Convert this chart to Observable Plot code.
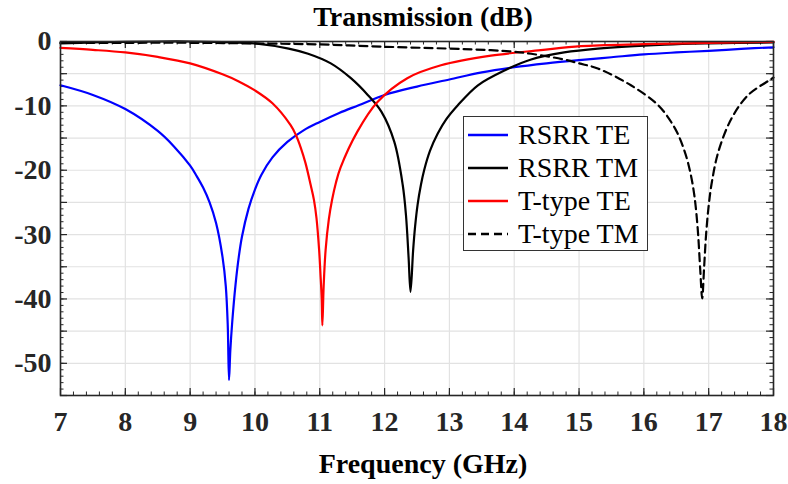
<!DOCTYPE html>
<html>
<head>
<meta charset="utf-8">
<script src="https://cdn.jsdelivr.net/npm/d3@7"></script>
<script src="https://cdn.jsdelivr.net/npm/@observablehq/plot@0.6"></script>
<style>
  html, body { margin: 0; padding: 0; background: #fff; }
  #wrap { position: relative; width: 788px; height: 484px; font-family: "Liberation Serif", "DejaVu Serif", "Noto Serif", "Tinos", "Times New Roman", serif; }
  .ttl { position: absolute; left: 0; width: 846px; text-align: center; font-size: 28px; font-weight: bold; line-height: 28px; color: #000; white-space: nowrap; }
  #legend { position: absolute; left: 463px; top: 116px; width: 185px; height: 135px; border: 1px solid #333; background: #fff; box-sizing: border-box; }
  .row { position: absolute; left: 0; height: 33px; display: flex; align-items: center; font-size: 28px; color: #000; white-space: nowrap; }
  .row svg { margin-left: 4px; margin-right: 10px; }
</style>
</head>
<body>
<div id="wrap"></div>
<script>
// ---- data ----
const rsrrTE_f  = [7.0, 7.5, 8.0, 8.5, 8.75, 9.0, 9.1, 9.2, 9.3, 9.4, 9.5, 9.55, 9.58, 9.60, 9.62, 9.65, 9.70, 9.75, 9.80, 9.90, 10.0, 10.1, 10.27, 10.5, 10.75, 11.0, 11.3, 11.6, 12.0, 12.5, 13.0, 13.5, 14.0, 14.5, 15.0, 15.5, 16.0, 16.5, 17.0, 17.5, 18.0];
const rsrrTE_db = [-6.8, -8.3, -10.5, -13.9, -16.3, -19.3, -20.9, -22.7, -25.0, -28.2, -33.5, -38.0, -44.0, -52.6, -48.0, -43.5, -37.8, -33.5, -30.3, -26.0, -23.0, -20.7, -18.0, -15.6, -13.8, -12.5, -11.1, -9.9, -8.3, -7.0, -5.9, -4.8, -4.0, -3.4, -2.9, -2.45, -2.0, -1.7, -1.45, -1.15, -0.9];

const rsrrTM_f  = [7.0, 7.5, 8.0, 8.5, 9.0, 9.5, 10.0, 10.52, 10.82, 11.17, 11.48, 11.74, 11.95, 12.15, 12.28, 12.33, 12.37, 12.40, 12.44, 12.47, 12.51, 12.56, 12.61, 12.70, 12.82, 12.95, 13.13, 13.44, 13.85, 14.26, 14.77, 15.29, 16.32, 17.0, 18.0];
const rsrrTM_db = [-0.3, -0.15, -0.05, 0.0, 0.0, -0.1, -0.3, -1.1, -1.9, -3.4, -5.7, -8.3, -10.9, -15.6, -22.3, -27.0, -33.5, -38.9, -32.5, -28.8, -25.3, -22.3, -20.0, -17.0, -14.3, -12.1, -9.9, -6.8, -4.5, -2.8, -1.7, -1.1, -0.5, -0.3, -0.15];

const ttypeTE_f  = [7.0, 7.5, 8.0, 8.5, 9.0, 9.5, 9.75, 10.0, 10.27, 10.55, 10.63, 10.71, 10.78, 10.86, 10.91, 10.95, 10.99, 11.01, 11.03, 11.04, 11.06, 11.09, 11.14, 11.19, 11.25, 11.32, 11.58, 11.89, 12.35, 12.87, 13.64, 14.41, 15.03, 16.01, 17.0, 18.0];
const ttypeTE_db = [-1.0, -1.3, -1.7, -2.4, -3.4, -5.1, -6.2, -7.6, -9.6, -13.0, -14.5, -16.6, -18.9, -22.3, -24.6, -27.5, -32.4, -36.0, -40.0, -44.1, -38.0, -32.4, -27.6, -24.6, -21.9, -19.6, -14.0, -9.4, -5.7, -3.7, -2.2, -1.35, -0.73, -0.42, -0.2, -0.06];

const ttypeTM_f  = [7.0, 8.0, 9.0, 10.0, 11.0, 11.95, 12.97, 13.64, 14.0, 14.26, 14.77, 15.0, 15.29, 15.80, 16.22, 16.48, 16.63, 16.72, 16.78, 16.83, 16.87, 16.90, 16.93, 16.96, 17.0, 17.05, 17.15, 17.35, 17.61, 17.94, 18.0];
const ttypeTM_db = [-0.2, -0.2, -0.2, -0.3, -0.45, -0.8, -1.1, -1.35, -1.6, -1.9, -2.8, -3.4, -4.2, -6.8, -9.9, -13.5, -17.1, -20.5, -24.0, -29.0, -35.5, -39.9, -35.0, -30.0, -25.5, -21.8, -17.1, -12.0, -8.3, -6.0, -5.6];

const seriesNames = ["RSRR TE", "RSRR TM", "T-type TE", "T-type TM"];
const seriesColors = ["#0000ff", "#000000", "#ff0000", "#000000"];
const seriesDash = [null, null, null, "8,5"];

const xTicks = [7, 8, 9, 10, 11, 12, 13, 14, 15, 16, 17, 18];
const yTicks = [0, -10, -20, -30, -40, -50];
const xDomain = [7, 18];
const yDomain = [-55, 0];
const titleText = "Transmission (dB)";
const xLabelText = "Frequency (GHz)";

// ---- build ----
function rows(fs, dbs, name) { return fs.map((f, i) => ({f, db: dbs[i], name})); }
const allSeries = [
  rows(rsrrTE_f, rsrrTE_db, seriesNames[0]),
  rows(rsrrTM_f, rsrrTM_db, seriesNames[1]),
  rows(ttypeTE_f, ttypeTE_db, seriesNames[2]),
  rows(ttypeTM_f, ttypeTM_db, seriesNames[3])
];

const W = 788, H = 484, mL = 60, mR = 15, mT = 41, mB = 89;
const innerW = W - mL - mR, innerH = H - mT - mB;

const xMinor = d3.range(70, 181, 2).map(v => v / 10);
const yMinor = d3.range(-55, 1, 1);
const yGrid = d3.range(-55, 1, 5);
const tickCol = "#262626";

const lineMarks = allSeries.map((s, i) => Plot.line(s, {
  x: "f", y: "db", stroke: seriesColors[i], strokeWidth: 2.2,
  strokeDasharray: seriesDash[i] || undefined, curve: "catmull-rom"
}));

const chart = Plot.plot({
  width: W, height: H,
  marginLeft: mL, marginRight: mR, marginTop: mT, marginBottom: mB,
  x: {domain: xDomain},
  y: {domain: yDomain},
  style: {fontFamily: "'Liberation Serif', 'DejaVu Serif', 'Noto Serif', Tinos, 'Times New Roman', serif", fontSize: "28px", fontWeight: "bold", color: tickCol, background: "#fff", overflow: "visible"},
  marks: [
    Plot.gridX(xTicks, {stroke: "#e2e2e2", strokeOpacity: 1, strokeWidth: 1.2}),
    Plot.gridY(yGrid, {stroke: "#e2e2e2", strokeOpacity: 1, strokeWidth: 1.2}),
    Plot.tickX(xMinor, {x: d => d, stroke: tickCol, strokeWidth: 1, insetTop: innerH - 3.5}),
    Plot.tickX(xMinor, {x: d => d, stroke: tickCol, strokeWidth: 1, insetBottom: innerH - 3.5}),
    Plot.tickX(xTicks, {x: d => d, stroke: tickCol, strokeWidth: 1.2, insetTop: innerH - 7}),
    Plot.tickX(xTicks, {x: d => d, stroke: tickCol, strokeWidth: 1.2, insetBottom: innerH - 7}),
    Plot.tickY(yMinor, {y: d => d, stroke: tickCol, strokeWidth: 1, insetRight: innerW - 3.5}),
    Plot.tickY(yMinor, {y: d => d, stroke: tickCol, strokeWidth: 1, insetLeft: innerW - 3.5}),
    Plot.tickY(yGrid, {y: d => d, stroke: tickCol, strokeWidth: 1.2, insetRight: innerW - 7}),
    Plot.tickY(yGrid, {y: d => d, stroke: tickCol, strokeWidth: 1.2, insetLeft: innerW - 7}),
    ...lineMarks,
    Plot.frame({stroke: tickCol, strokeWidth: 1.6}),
    Plot.axisX({ticks: xTicks, tickSize: 0, tickPadding: 16, label: null, tickFormat: d => String(d)}),
    Plot.axisY({ticks: yTicks, tickSize: 0, tickPadding: 9, label: null, tickFormat: d => String(d)})
  ]
});

const wrap = document.getElementById("wrap");
wrap.appendChild(chart);

const title = document.createElement("div");
title.className = "ttl";
title.style.top = "3px";
title.textContent = titleText;
wrap.appendChild(title);

const xl = document.createElement("div");
xl.className = "ttl";
xl.style.top = "450px";
xl.textContent = xLabelText;
wrap.appendChild(xl);

const legend = document.createElement("div");
legend.id = "legend";
seriesNames.forEach((name, i) => {
  const r = document.createElement("div");
  r.className = "row";
  r.style.top = (1 + i * 33.3) + "px";
  const dash = seriesDash[i] ? `stroke-dasharray="8,5"` : "";
  r.innerHTML = `<svg width="40" height="6"><line x1="0" y1="3" x2="40" y2="3" stroke="${seriesColors[i]}" stroke-width="2.4" ${dash}/></svg><span>${name}</span>`;
  legend.appendChild(r);
});
wrap.appendChild(legend);
</script>
</body>
</html>
